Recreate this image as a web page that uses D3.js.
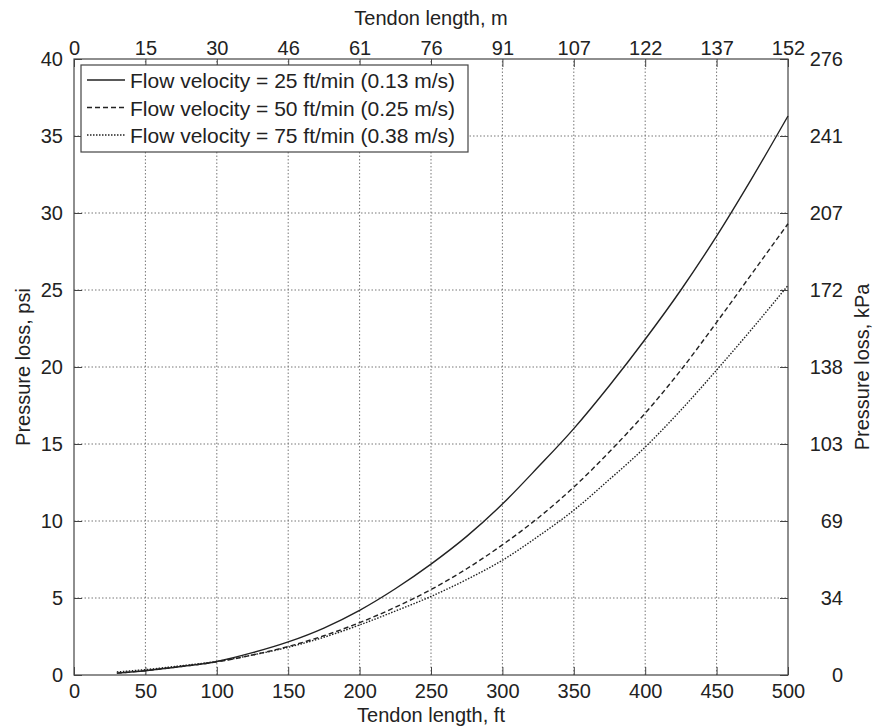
<!DOCTYPE html>
<html>
<head>
<meta charset="utf-8">
<script src="https://cdn.jsdelivr.net/npm/d3@7"></script>
<style>
  body { margin: 0; background: #fff; }
  text { font-family: "Liberation Sans", Arial, sans-serif; fill: #222; }
</style>
</head>
<body>
<svg id="chart" width="874" height="728"></svg>
<script>
// tendon length (ft) and pressure loss (psi) for each flow velocity
var lengthFt = [30, 50, 75, 100, 125, 150, 175, 200, 225, 250, 275, 300, 325, 350, 375, 400, 425, 450, 475, 500];
var loss25 = [0.12, 0.28, 0.55, 0.88, 1.45, 2.15, 3.05, 4.2, 5.6, 7.2, 9.0, 11.1, 13.5, 16.0, 18.8, 21.8, 25.0, 28.5, 32.3, 36.3];
var loss50 = [0.12, 0.28, 0.55, 0.85, 1.3, 1.85, 2.55, 3.4, 4.4, 5.55, 6.9, 8.45, 10.2, 12.2, 14.5, 17.0, 19.8, 22.9, 26.1, 29.3];
var loss75 = [0.2, 0.35, 0.6, 0.88, 1.3, 1.8, 2.45, 3.25, 4.15, 5.1, 6.2, 7.45, 9.0, 10.7, 12.7, 14.8, 17.2, 19.8, 22.5, 25.3];

var seriesNames = ["Flow velocity = 25 ft/min (0.13 m/s)", "Flow velocity = 50 ft/min (0.25 m/s)", "Flow velocity = 75 ft/min (0.38 m/s)"];
var seriesDash = [null, "5,3", "1.5,1.5"];

var ftTicks = [0, 50, 100, 150, 200, 250, 300, 350, 400, 450, 500];
var meterLabels = ["0", "15", "30", "46", "61", "76", "91", "107", "122", "137", "152"];
var psiTicks = [0, 5, 10, 15, 20, 25, 30, 35, 40];
var kPaLabels = ["0", "34", "69", "103", "138", "172", "207", "241", "276"];

var width = 874;
var height = 728;
var margin = { top: 59, right: 86, bottom: 53, left: 74 };

var svg = d3.select("#chart");

var x = d3.scaleLinear()
    .domain([0, 500])
    .range([margin.left, width - margin.right]);

var y = d3.scaleLinear()
    .domain([0, 40])
    .range([height - margin.bottom, margin.top]);

var fontSize = "20px";

// grid
svg.append("g")
    .selectAll("line")
    .data(ftTicks.slice(1, -1))
    .enter()
    .append("line")
    .attr("x1", d => x(d))
    .attr("x2", d => x(d))
    .attr("y1", y(0))
    .attr("y2", y(40))
    .attr("stroke", "#777")
    .attr("stroke-dasharray", "1.5,2");

svg.append("g")
    .selectAll("line")
    .data(psiTicks.slice(1, -1))
    .enter()
    .append("line")
    .attr("x1", x(0))
    .attr("x2", x(500))
    .attr("y1", d => y(d))
    .attr("y2", d => y(d))
    .attr("stroke", "#777")
    .attr("stroke-dasharray", "1.5,2");

// axes
var bottomAxis = svg.append("g")
    .attr("transform", `translate(0,${y(0)})`)
    .call(d3.axisBottom(x).tickValues(ftTicks).tickSize(-8).tickPadding(9));

var topAxis = svg.append("g")
    .attr("transform", `translate(0,${y(40)})`)
    .call(d3.axisTop(x).tickValues(ftTicks).tickSize(-8).tickPadding(4)
        .tickFormat((d, i) => meterLabels[i]));

var leftAxis = svg.append("g")
    .attr("transform", `translate(${x(0)},0)`)
    .call(d3.axisLeft(y).tickValues(psiTicks).tickSize(-8).tickPadding(11));

var rightAxis = svg.append("g")
    .attr("transform", `translate(${x(500)},0)`)
    .call(d3.axisRight(y).tickValues(psiTicks).tickSize(-8).tickPadding(55)
        .tickFormat((d, i) => kPaLabels[i]));

rightAxis.selectAll("text").attr("text-anchor", "end");

[bottomAxis, topAxis, leftAxis, rightAxis].forEach(g => {
    g.select(".domain").remove();
    g.selectAll("line").attr("stroke", "#444");
    g.selectAll("text")
        .style("font-size", fontSize)
        .style("font-family", "Liberation Sans, Arial, sans-serif")
        .attr("fill", "#222");
});

// frame
svg.append("rect")
    .attr("x", x(0))
    .attr("y", y(40))
    .attr("width", x(500) - x(0))
    .attr("height", y(0) - y(40))
    .attr("fill", "none")
    .attr("stroke", "#444")
    .attr("stroke-width", 1.2);

// curves
var allSeries = [loss25, loss50, loss75];

var line = d3.line()
    .x((d, i) => x(lengthFt[i]))
    .y(d => y(d))
    .curve(d3.curveMonotoneX);

svg.selectAll(".curve")
    .data(allSeries)
    .enter()
    .append("path")
    .attr("class", "curve")
    .attr("d", d => line(d))
    .attr("fill", "none")
    .attr("stroke", "#222")
    .attr("stroke-width", 1.4)
    .attr("stroke-dasharray", (d, i) => seriesDash[i]);

// legend
var legend = svg.append("g");

legend.append("rect")
    .attr("x", 81)
    .attr("y", 65)
    .attr("width", 387)
    .attr("height", 87)
    .attr("fill", "#fff")
    .attr("stroke", "#444")
    .attr("stroke-width", 1.2);

seriesNames.forEach((name, i) => {
    var cy = 80 + i * 27.5;
    legend.append("line")
        .attr("x1", 87)
        .attr("x2", 125)
        .attr("y1", cy)
        .attr("y2", cy)
        .attr("stroke", "#222")
        .attr("stroke-width", 1.4)
        .attr("stroke-dasharray", seriesDash[i]);
    legend.append("text")
        .attr("x", 130)
        .attr("y", cy + 8)
        .style("font-size", "21px")
        .text(name);
});

// axis titles
svg.append("text")
    .attr("x", (x(0) + x(500)) / 2)
    .attr("y", 25)
    .attr("text-anchor", "middle")
    .style("font-size", fontSize)
    .text("Tendon length, m");

svg.append("text")
    .attr("x", (x(0) + x(500)) / 2)
    .attr("y", 722)
    .attr("text-anchor", "middle")
    .style("font-size", fontSize)
    .text("Tendon length, ft");

svg.append("text")
    .attr("transform", `translate(30,${(y(0) + y(40)) / 2}) rotate(-90)`)
    .attr("text-anchor", "middle")
    .style("font-size", fontSize)
    .text("Pressure loss, psi");

svg.append("text")
    .attr("transform", `translate(869,${(y(0) + y(40)) / 2}) rotate(-90)`)
    .attr("text-anchor", "middle")
    .style("font-size", fontSize)
    .text("Pressure loss, kPa");
</script>
</body>
</html>
